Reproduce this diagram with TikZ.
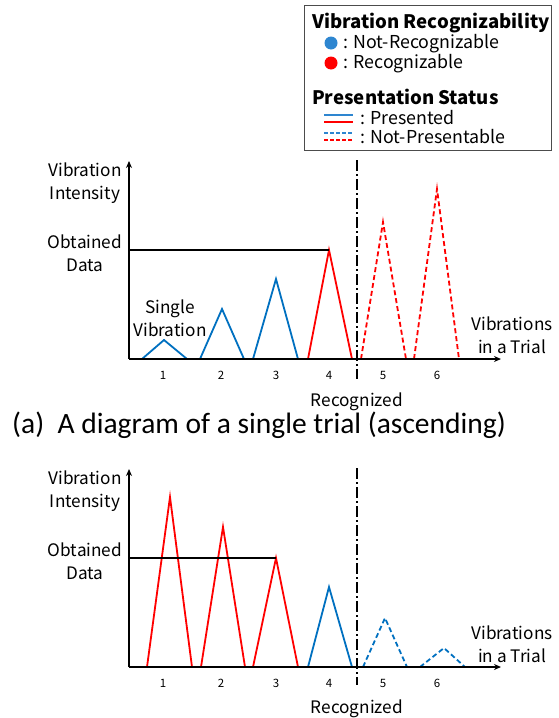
\documentclass[tikz,border=0pt]{standalone}
\usepackage{fontspec}
\setmainfont{Noto Sans CJK JP}
\newfontfamily\capfont{Carlito}
\usetikzlibrary{positioning, arrows, arrows.meta}
\definecolor{vblue}{RGB}{0,112,192}
\definecolor{vred}{RGB}{255,0,0}
\definecolor{dotblue}{RGB}{46,134,208}
\newcommand{\lbl}[2]{\fontsize{#1}{#2}\selectfont}

\begin{document}
\begin{tikzpicture}[x=1pt, y=-1pt, >=stealth,
	axis/.style={line width=2.5pt, -{Stealth[length=7pt, width=6pt]}},
	pres/.style={line width=1.8pt},
	notpres/.style={line width=1.8pt, dash pattern=on 5pt off 3pt},
	border/.style={line width=2.5pt, dash pattern=on 11pt off 3pt on 2pt off 3pt},
	txt/.style={font=\lbl{17.2}{23}, align=center, inner sep=0pt},
	tick/.style={font=\lbl{11.5}{12}, inner sep=0pt},
	legtitle/.style={font=\lbl{18.6}{21}\bfseries, anchor=west, inner sep=0pt},
	legtxt/.style={font=\lbl{17.8}{20}, anchor=west, inner sep=0pt}]
	\useasboundingbox (0,0) rectangle (559,718);

	% legend
	\node[draw=black!70, line width=1pt, minimum width=247pt, minimum height=145pt, anchor=north west] (legend) at (304,5) {};
	\node[legtitle] (rectitle) at (312,23) {Vibration Recognizability};
	\fill[dotblue] (331,43) circle (6.5pt);
	\node[legtxt] (notrec) at (343,44) {: Not-Recognizable};
	\fill[vred] (331,63) circle (6.5pt);
	\node[legtxt] (rec) at (343,64) {: Recognizable};
	\node[legtitle] (prestitle) at (312,97) {Presentation Status};
	\draw[pres, dotblue] (324,115) -- (353,115);
	\draw[pres, vred] (324,122) -- (353,122);
	\node[legtxt] (presented) at (360,118) {: Presented};
	\draw[notpres, dotblue, dash pattern=on 4pt off 2pt] (324,133) -- (353,133);
	\draw[notpres, vred, dash pattern=on 4pt off 2pt] (324,140) -- (353,140);
	\node[legtxt] (notpresentable) at (360,137) {: Not-Presentable};

	% (a) ascending
	\coordinate (origin1) at (129,359);
	\coordinate (ytop1) at (129,161);
	\coordinate (xend1) at (501,359);
	\draw[pres, vblue] (142,359) -- (164,340) -- (187,359);
	\draw[pres, vblue] (200,359) -- (222,309) -- (244,359);
	\draw[pres, vblue] (253,359) -- (276,279) -- (298,359);
	\draw[pres, vred] (308,359) -- (329,250) -- (352,359) -- cycle;
	\draw[notpres, vred] (361,359) -- (383,222) -- (406,359);
	\draw[notpres, vred] (414,359) -- (437,189) -- (459,359);
	\coordinate (peak1) at (329,250);
	\draw[line width=2pt] (129,250) -- (peak1);
	\draw[axis] (origin1) -- (ytop1);
	\draw[axis] (origin1) -- (xend1);
	\draw[border] (357,160) -- (357,379);
	\node[txt] (yname1) at (85,183) {Vibration\\Intensity};
	\node[txt] (obtained1) at (85,253) {Obtained\\Data};
	\node[txt] (single) at (170,318) {Single\\Vibration};
	\node[txt] (xname1) at (512,335) {Vibrations\\in a Trial};
	\node[txt] (recog1) at (357,402) {Recognized};
	\foreach \x [count=\i] in {163,221,276,329,383,437}
		\node[tick] (tick1\i) at (\x,375) {\i};

	\node[font=\capfont\fontsize{29.5}{30}\selectfont, anchor=west, inner sep=0pt] (caption) at (12,425) {(a)\ \ A diagram of a single trial (ascending)};

	% descending
	\coordinate (origin2) at (129,667);
	\coordinate (ytop2) at (129,469);
	\coordinate (xend2) at (501,667);
	\draw[pres, vred] (147,667) -- (170,497) -- (192,667);
	\draw[pres, vred] (201,667) -- (223,527) -- (245,667);
	\draw[pres, vred] (253,667) -- (276,558) -- (298,667);
	\draw[pres, vblue] (308,667) -- (329,587) -- (352,667);
	\draw[notpres, vblue] (363,667) -- (385,618) -- (407,667);
	\draw[notpres, vblue] (420,667) -- (444,648) -- (465,667);
	\coordinate (peak2) at (276,558);
	\draw[line width=2pt] (129,558) -- (peak2);
	\draw[axis] (origin2) -- (ytop2);
	\draw[axis] (origin2) -- (xend2);
	\draw[border] (357,468) -- (357,685);
	\node[txt] (yname2) at (85,491) {Vibration\\Intensity};
	\node[txt] (obtained2) at (85,561) {Obtained\\Data};
	\node[txt] (xname2) at (512,644) {Vibrations\\in a Trial};
	\node[txt] (recog2) at (357,709) {Recognized};
	\foreach \x [count=\i] in {163,221,276,329,383,437}
		\node[tick] (tick2\i) at (\x,683) {\i};
\end{tikzpicture}
\end{document}
